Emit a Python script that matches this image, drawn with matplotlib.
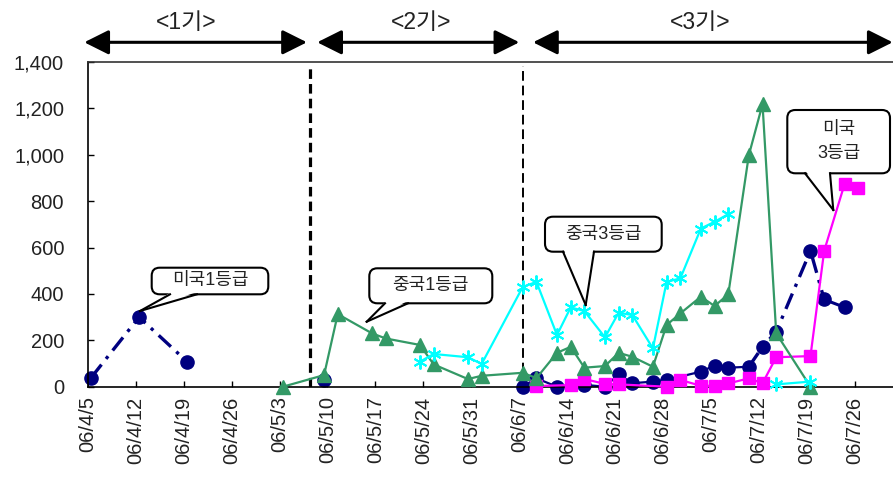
import numpy as np
import pandas as pd
import matplotlib
matplotlib.use("Agg")
import matplotlib.pyplot as plt
import matplotlib.dates as mdates
from matplotlib.patches import FancyBboxPatch, Polygon
from matplotlib.lines import Line2D
from matplotlib.transforms import IdentityTransform, blended_transform_factory
from matplotlib.ticker import FuncFormatter

plt.rcParams['font.family'] = ['Liberation Sans', 'Noto Sans CJK KR']

W, H = 893, 480

# ---- data (2006) ----
# navy circles: 미국 (1등급 in period 1, 3등급 in period 3)
us1_dates = ['4/5', '4/12', '4/19']
us1_vals = [39, 300, 108]
us2_dates = ['5/9']
us2_vals = [29]
us3_dates = ['6/7', '6/9', '6/12', '6/16', '6/19', '6/21', '6/23', '6/26', '6/28',
             '7/3', '7/5', '7/7', '7/10', '7/12', '7/14', '7/19', '7/21', '7/24']
us3_vals = [0, 36, 0, 8, 0, 53, 15, 22, 29,
            65, 91, 82, 86, 172, 237, 586, 376, 342]

# green triangles
green_dates = ['5/3', '5/9', '5/11', '5/16', '5/18', '5/23', '5/25', '5/30', '6/1',
               '6/7', '6/9', '6/12', '6/14', '6/16', '6/19', '6/21', '6/23', '6/26',
               '6/28', '6/30', '7/3', '7/5', '7/7', '7/10', '7/12', '7/14', '7/19']
green_vals = [0, 50, 313, 230, 208, 180, 96, 33, 47,
              60, 37, 146, 172, 82, 89, 146, 129, 86,
              266, 316, 388, 348, 398, 998, 1218, 230, 0]

# cyan asterisks (gap around 7/10)
cyan_dates = ['5/23', '5/25', '5/30', '6/1', '6/7', '6/9', '6/12', '6/14', '6/16',
              '6/19', '6/21', '6/23', '6/26', '6/28', '6/30', '7/3', '7/5', '7/7',
              '7/10', '7/14', '7/19']
cyan_vals = [108, 141, 127, 98, 430, 452, 223, 342, 326,
             213, 319, 309, 165, 452, 467, 682, 711, 744,
             np.nan, 10, 22]

# magenta squares
pink_dates = ['6/9', '6/14', '6/16', '6/19', '6/21', '6/28', '6/30', '7/3', '7/5',
              '7/7', '7/10', '7/12', '7/14', '7/19', '7/21', '7/24', '7/26']
pink_vals = [3, 7, 33, 12, 10, 0, 29, 4, 4,
             14, 36, 15, 127, 132, 586, 876, 855]

phase_names = ['<1기>', '<2기>', '<3기>']
phase_edges = ['5/7', '6/7']

y_ticks = [0, 200, 400, 600, 800, 1000, 1200, 1400]


def dnum(days, hours=12):
    # Excel date axis: points sit in the middle of their day
    t = pd.to_datetime(['2006/' + d for d in days]) + pd.Timedelta(hours=hours)
    return mdates.date2num(t.to_pydatetime())


NAVY = '#000080'
GREEN = '#339966'
CYAN = '#00FFFF'
PINK = '#FF00FF'

fig = plt.figure(figsize=(W / 100, H / 100), dpi=100)
x0 = 87.7
x_start = mdates.date2num(pd.Timestamp('2006-04-05'))
x_end = mdates.date2num(pd.Timestamp('2006-08-01'))
px_day = 6.851
ax = fig.add_axes([x0 / W, 1 - 386.7 / H, (x_end - x_start) * px_day / W, (386.7 - 62) / H])

dashdot = (0, (5, 2.2, 1, 2.2))

# navy
ax.plot(dnum(us1_dates), us1_vals, color=NAVY, lw=2.4, ls=dashdot, zorder=2)
ax.plot(dnum(us1_dates), us1_vals, 'o', color=NAVY, ms=9.5, zorder=2, clip_on=False)
ax.plot(dnum(us2_dates), us2_vals, 'o', color=NAVY, ms=9.5, zorder=2, clip_on=False)
xu = dnum(us3_dates)
ax.plot(xu[:13], us3_vals[:13], color=NAVY, lw=1.6, zorder=2)
ax.plot(xu[12:17], us3_vals[12:17], color=NAVY, lw=2.4, ls=dashdot, zorder=2)
ax.plot(xu[16:], us3_vals[16:], color=NAVY, lw=2.2, zorder=2)
ax.plot(xu, us3_vals, 'o', color=NAVY, ms=9.5, zorder=2, clip_on=False)

# magenta
ax.plot(dnum(pink_dates), pink_vals, color=PINK, lw=1.6, marker='s', ms=9, zorder=3,
        clip_on=False)

# green
ax.plot(dnum(green_dates), green_vals, color=GREEN, lw=1.6, marker='^', ms=10, zorder=4,
        clip_on=False)

# cyan
ax.plot(dnum(cyan_dates), cyan_vals, color=CYAN, lw=1.6, marker=(6, 2, 0), ms=10,
        mew=1.4, zorder=5, clip_on=False)

# phase boundaries
ex = dnum(phase_edges)
ax.axvline(ex[0], ymin=0, ymax=0.988, color='black', lw=2.3, ls=(0, (3, 1.6)), zorder=1)
ax.axvline(ex[1], ymin=0, ymax=0.988, color='black', lw=1.4, ls=(0, (5, 2.5)), zorder=1)

ax.set_xlim(x_start, x_end)
ax.set_ylim(0, 1400)
ax.set_yticks(y_ticks)
ax.yaxis.set_major_formatter(FuncFormatter(lambda v, p: f"{v:,.0f}"))
wk = pd.date_range('2006-04-05', '2006-07-26', freq='7D')
ax.set_xticks(mdates.date2num(wk.to_pydatetime()))
ax.set_xticklabels([f"{d:%y}/{d.month}/{d.day}" for d in wk], rotation=90)
ax.tick_params(axis='both', direction='in', length=4, width=1, labelsize=14.5,
               colors='black', labelcolor='#222222')
ax.tick_params(axis='y', pad=17)
ax.tick_params(axis='x', pad=7)
ax.spines['right'].set_visible(False)
ax.spines['top'].set_color('#333333')
for s in ['left', 'bottom', 'top']:
    ax.spines[s].set_linewidth(1.2)

# period arrows above the plot
tr = blended_transform_factory(ax.transData, fig.transFigure)
arrow_spans = [(x_start - 0.5, ex[0] - 0.5), (ex[0] + 1.0, ex[1] - 0.5),
               (ex[1] + 1.5, x_start + 117.5)]
for a, b in arrow_spans:
    ax.annotate('', xy=(b, 1 - 42.3 / H), xytext=(a, 1 - 42.3 / H), xycoords=tr,
                textcoords=tr, annotation_clip=False,
                arrowprops=dict(arrowstyle='<|-|>,head_length=1.5,head_width=0.75',
                                mutation_scale=10, lw=2.2, color='black',
                                shrinkA=0, shrinkB=0))
for name, cx in zip(phase_names, [186.5, 421, 700]):
    fig.text(cx / W, 1 - 22.5 / H, name, ha='center', va='center', fontsize=16.5,
             color='#222222')

# speech-bubble callouts (pixel positions, y measured from top)
callouts = [
    ('미국1등급', (151.7, 267.7, 268.3, 294.3), (170, 197), (140, 311)),
    ('중국1등급', (369.3, 268.3, 492.3, 303.3), (385, 408), (366.7, 321.7)),
    ('중국3등급', (545, 216.7, 661.7, 251.7), (563, 594), (585.7, 305)),
    ('미국\n3등급', (787.3, 110, 890, 173.3), (805, 830), (833.3, 210)),
]
ident = IdentityTransform()
for text, (bx0, by0, bx1, by1), (bl, br), (tx, ty) in callouts:
    box = FancyBboxPatch((bx0, H - by1), bx1 - bx0, by1 - by0,
                         boxstyle='round,pad=0,rounding_size=8',
                         fc='white', ec='black', lw=1.5, transform=ident, zorder=10)
    fig.add_artist(box)
    tail = Polygon([(bl + 0.8, H - by1 + 2), (tx, H - ty), (br - 0.8, H - by1 + 2)],
                   closed=True, fc='white', ec='none', transform=ident, zorder=11)
    fig.add_artist(tail)
    for bx in (bl, br):
        fig.add_artist(Line2D([bx, tx], [H - by1, H - ty], color='black', lw=1.5,
                              transform=ident, zorder=12))
    fig.text((bx0 + bx1) / 2 / W, 1 - (by0 + by1) / 2 / H, text, ha='center',
             va='center', fontsize=13, linespacing=1.55, zorder=13, color='#222222')

fig.savefig('out.png', dpi=100)
